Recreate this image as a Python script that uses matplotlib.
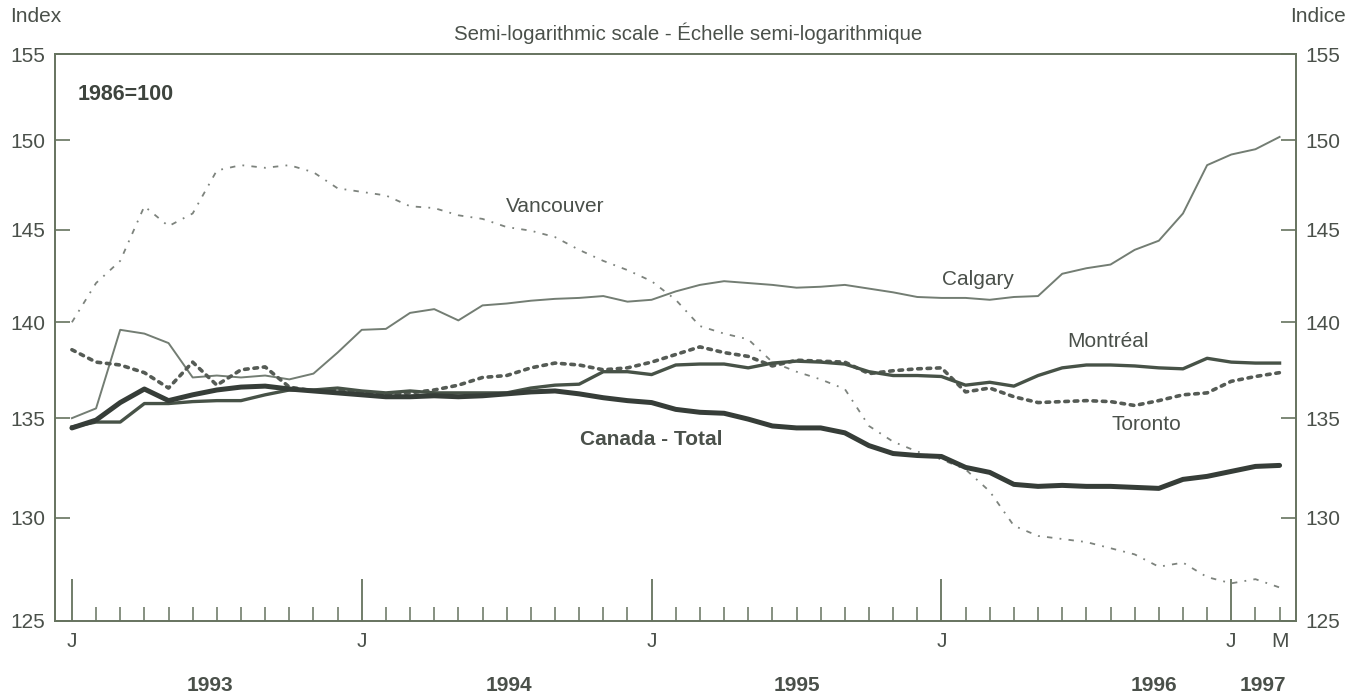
import matplotlib
matplotlib.use("Agg")
import matplotlib.pyplot as plt
from matplotlib.ticker import FixedLocator, NullFormatter, NullLocator
import matplotlib.transforms as mtransforms

plt.rcParams["font.family"] = ["Liberation Sans", "DejaVu Sans"]

# Monthly index values, Jan 1993 .. Mar 1997 (51 months), 1986=100
months = list(range(51))

canada = [134.5, 134.9, 135.8, 136.5, 135.9, 136.2, 136.45, 136.6, 136.65, 136.5,
          136.4, 136.3, 136.2, 136.1, 136.1, 136.15, 136.1, 136.15, 136.25, 136.35,
          136.4, 136.25, 136.05, 135.9, 135.8, 135.45, 135.3, 135.25, 134.95, 134.6,
          134.5, 134.5, 134.25, 133.6, 133.2, 133.1, 133.05, 132.5, 132.25, 131.65,
          131.55, 131.6, 131.55, 131.55, 131.5, 131.45, 131.9, 132.05, 132.3, 132.55,
          132.6]

montreal = [134.55, 134.8, 134.8, 135.75, 135.75, 135.85, 135.9, 135.9, 136.2, 136.45,
            136.45, 136.55, 136.4, 136.3, 136.4, 136.3, 136.3, 136.3, 136.3, 136.55,
            136.7, 136.75, 137.4, 137.4, 137.25, 137.75, 137.8, 137.8, 137.6, 137.85,
            137.95, 137.9, 137.8, 137.4, 137.2, 137.2, 137.15, 136.7, 136.85, 136.65,
            137.2, 137.6, 137.75, 137.75, 137.7, 137.6, 137.55, 138.1, 137.9, 137.85,
            137.85]

toronto = [138.55, 137.9, 137.75, 137.35, 136.55, 137.9, 136.7, 137.5, 137.65, 136.6,
           136.4, 136.45, 136.3, 136.2, 136.3, 136.45, 136.7, 137.1, 137.2, 137.6,
           137.85, 137.75, 137.5, 137.6, 137.9, 138.3, 138.7, 138.4, 138.2, 137.7,
           138.0, 137.95, 137.9, 137.3, 137.45, 137.55, 137.6, 136.35, 136.55, 136.1,
           135.8, 135.85, 135.9, 135.85, 135.65, 135.9, 136.2, 136.3, 136.9, 137.15,
           137.35]

calgary = [135.0, 135.5, 139.6, 139.4, 138.9, 137.1, 137.2, 137.1, 137.2, 137.0,
           137.3, 138.4, 139.6, 139.65, 140.5, 140.7, 140.1, 140.9, 141.0, 141.15,
           141.25, 141.3, 141.4, 141.1, 141.2, 141.65, 142.0, 142.2, 142.1, 142.0,
           141.85, 141.9, 142.0, 141.8, 141.6, 141.35, 141.3, 141.3, 141.2, 141.35,
           141.4, 142.6, 142.9, 143.1, 143.9, 144.4, 145.9, 148.6, 149.2, 149.5,
           150.2]

vancouver = [140.0, 142.1, 143.3, 146.3, 145.2, 145.9, 148.3, 148.6, 148.45, 148.6,
             148.2, 147.3, 147.1, 146.9, 146.3, 146.2, 145.8, 145.6, 145.15, 144.95,
             144.6, 143.9, 143.3, 142.8, 142.2, 141.2, 139.8, 139.4, 139.1, 137.9,
             137.4, 137.0, 136.5, 134.6, 133.8, 133.3, 132.9, 132.4, 131.3, 129.6,
             129.1, 128.95, 128.8, 128.5, 128.2, 127.6, 127.8, 127.1, 126.8, 127.0,
             126.6]

y_ticks = [125, 130, 135, 140, 145, 150, 155]
jan_months = [0, 12, 24, 36, 48]
year_labels = ["1993", "1994", "1995", "1996", "1997"]
year_pos = [5.7, 18.1, 30.0, 44.8, 49.3]

TXT = "#4a504a"
AX = "#66735f"
FS = 15

fig = plt.figure(figsize=(13.6, 6.98), dpi=100)
ax = fig.add_axes([55 / 1360, 1 - 621 / 698, (1296 - 55) / 1360, (621 - 54) / 698])

ax.plot(months, vancouver, color="#7d837d", lw=1.3, ls=(0, (3, 4, 1, 4)))
ax.plot(months, calgary, color="#737d73", lw=1.4)
ax.plot(months, toronto, color="#555b55", lw=2.6, ls=(0, (1.0, 1.6)),
        dash_capstyle="round")
ax.plot(months, montreal, color="#475247", lw=2.4)
ax.plot(months, canada, color="#363d38", lw=3.6, solid_capstyle="round")

ax.set_yscale("log")
ax.set_ylim(125, 155)
ax.set_xlim(-0.7, 50.68)
ax.yaxis.set_major_locator(FixedLocator(y_ticks))
ax.yaxis.set_minor_locator(NullLocator())
ax.yaxis.set_minor_formatter(NullFormatter())
ax.set_yticks(y_ticks, [str(t) for t in y_ticks])
ax.tick_params(axis="y", which="major", direction="in", length=11, width=1.2,
               color=AX, left=True, right=True, labelleft=True, labelright=True,
               labelsize=FS, labelcolor=TXT, pad=7)

minor = [m for m in months if m not in jan_months]
ax.set_xticks(jan_months, ["J"] * len(jan_months))
ax.set_xticks(minor, ["M" if m == 50 else "" for m in minor], minor=True)
ax.tick_params(axis="x", which="major", direction="in", length=30, width=1.3,
               color=AX, labelsize=FS, labelcolor=TXT, pad=8)
ax.tick_params(axis="x", which="minor", direction="in", length=10, width=1.1,
               color=AX, labelsize=FS, labelcolor=TXT, pad=8)

for s in ax.spines.values():
    s.set_color(AX)
    s.set_linewidth(1.4)

trans = mtransforms.blended_transform_factory(ax.transData, ax.transAxes)
for pos, lab in zip(year_pos, year_labels):
    ax.text(pos, -0.113, lab, transform=trans, ha="center", va="center",
            fontsize=FS, fontweight="bold", color=TXT)

ax.text(0.0185, 0.929, "1986=100", transform=ax.transAxes, ha="left", va="center",
        fontsize=15.5, fontweight="bold", color="#3e443e")

ax.text(20.0, 146.3, "Vancouver", ha="center", va="center", fontsize=FS, color=TXT)
ax.text(37.5, 142.3, "Calgary", ha="center", va="center", fontsize=FS, color=TXT)
ax.text(42.9, 139.0, "Montréal", ha="center", va="center", fontsize=FS, color=TXT)
ax.text(44.5, 134.7, "Toronto", ha="center", va="center", fontsize=FS, color=TXT)
ax.text(24.0, 133.9, "Canada - Total", ha="center", va="center", fontsize=FS,
        fontweight="bold", color=TXT)

fig.text(0.506, 1 - 33 / 698, "Semi-logarithmic scale - Échelle semi-logarithmique",
         ha="center", va="center", fontsize=14.7, color=TXT)
fig.text(10 / 1360, 1 - 16 / 698, "Index", ha="left", va="center", fontsize=FS, color=TXT)
fig.text(1346 / 1360, 1 - 16 / 698, "Indice", ha="right", va="center", fontsize=FS,
         color=TXT)

fig.savefig("out.png", dpi=100)
